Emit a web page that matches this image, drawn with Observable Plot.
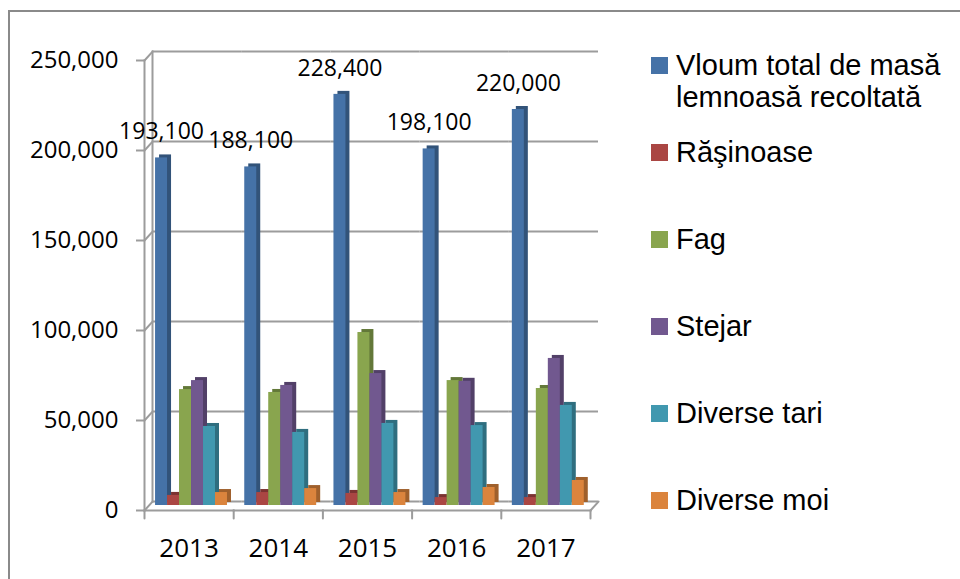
<!DOCTYPE html>
<html>
<head>
<meta charset="utf-8">
<script src="https://cdn.jsdelivr.net/npm/d3@7"></script>
<script src="https://cdn.jsdelivr.net/npm/@observablehq/plot@0.6"></script>
<style>
  html, body { margin: 0; padding: 0; background: #fff; width: 960px; height: 579px; overflow: hidden; }
  #wrap { position: relative; width: 960px; height: 579px; }
  #border { position: absolute; left: 8px; top: 10px; width: 1000px; height: 700px; border: 2px solid #8a8a8a; box-sizing: border-box; }
  #chart { position: absolute; left: 0; top: 0; }
  #legend { position: absolute; left: 651px; top: 49px; font-family: "Liberation Sans", Arial, sans-serif; font-size: 29px; line-height: 32px; color: #000; }
  .item { display: flex; align-items: flex-start; height: 87px; }
  .sw { width: 17px; height: 17px; margin-top: 7.5px; margin-right: 8px; flex: none; }
</style>
</head>
<body>
<div id="wrap">
  <div id="border"></div>
  <div id="chart"></div>
  <div id="legend"></div>
</div>
<script>
// ---- data ----
const years = ["2013", "2014", "2015", "2016", "2017"];
const seriesNames = ["Vloum total de masă lemnoasă recoltată", "Răşinoase", "Fag", "Stejar", "Diverse tari", "Diverse moi"];
const legendLines = [["Vloum total de masă", "lemnoasă recoltată"], ["Răşinoase"], ["Fag"], ["Stejar"], ["Diverse tari"], ["Diverse moi"]];
const total       = [193100, 188100, 228400, 198100, 220000];
const rasinoase   = [5600, 7200, 6700, 4400, 4400];
const fag         = [64400, 62800, 96100, 69400, 65000];
const stejar      = [69400, 66700, 73300, 69000, 81700];
const diverseTari = [43900, 40600, 45600, 44400, 55600];
const diverseMoi  = [7200, 9400, 7200, 10000, 13900];
const colors = ["#4572A7", "#AA4643", "#89A54E", "#71588F", "#4198AF", "#DB843D"];
const yTicks = [0, 50000, 100000, 150000, 200000, 250000];

// ---- table ----
const seriesValues = [total, rasinoase, fag, stejar, diverseTari, diverseMoi];
const rows = [];
seriesNames.forEach((s, i) => years.forEach((y, j) => rows.push({year: y, series: s, value: seriesValues[i][j]})));
const totalRows = rows.filter(r => r.series === seriesNames[0]);

const gray = "#9c9c9c";
const lineShape = {draw(context, l) { context.moveTo(0, 0); context.lineTo(0, -l); }};

const sideMarks = seriesNames.map((s, i) =>
  Plot.barY(rows.filter(r => r.series === s), {
    fx: "year", x: "series", y: "value",
    fill: d3.color(colors[i]).darker(0.9).formatHex(), dx: 4, dy: -3, inset: 0
  }));
const frontMarks = seriesNames.map((s, i) =>
  Plot.barY(rows.filter(r => r.series === s), {
    fx: "year", x: "series", y: "value", fill: colors[i], inset: 0
  }));

const chart = Plot.plot({
  width: 960,
  height: 579,
  marginLeft: 144,
  marginRight: 370,
  marginTop: 55,
  marginBottom: 74,
  style: {fontFamily: "'Open Sans', sans-serif", fontSize: "23px", color: "#000", background: "transparent", overflow: "visible"},
  fx: {domain: years, padding: 0, axis: null, label: null, round: false},
  x: {domain: seriesNames, paddingInner: 0, paddingOuter: 0.72, align: 0.64, round: false, axis: null},
  y: {domain: [0, 250000], axis: null},
  marks: [
    // back wall gridlines
    Plot.ruleY(yTicks, {dx: 8, dy: -4, stroke: gray, strokeWidth: 2}),
    Plot.frame({anchor: "left", dx: 8, dy: -4, stroke: gray, strokeWidth: 2, facetAnchor: "left"}),
    // connectors from front axis to back wall
    Plot.vector(yTicks, {y: d => d, frameAnchor: "left", length: 12, rotate: 42, anchor: "start", shape: lineShape, dy: 5, stroke: gray, strokeWidth: 2, facetAnchor: "left"}),
    Plot.vector([0], {frameAnchor: "bottom-right", length: 12, rotate: 42, anchor: "start", shape: lineShape, dy: 5, stroke: gray, strokeWidth: 2, facetAnchor: "right"}),
    // front axis line and floor line
    Plot.frame({anchor: "left", dy: 5, stroke: gray, strokeWidth: 2, facetAnchor: "left"}),
    Plot.frame({anchor: "bottom", dy: 5, stroke: gray, strokeWidth: 2}),
    // category boundary ticks
    Plot.vector([0], {frameAnchor: "bottom-left", length: 8, rotate: 180, anchor: "start", shape: lineShape, dy: 5, stroke: gray, strokeWidth: 2}),
    Plot.vector([0], {frameAnchor: "bottom-right", length: 8, rotate: 180, anchor: "start", shape: lineShape, dy: 5, stroke: gray, strokeWidth: 2, facetAnchor: "right"}),
    // bars
    ...sideMarks,
    ...frontMarks,
    // value labels
    Plot.text(totalRows, {fx: "year", x: "series", y: "value", text: d => d3.format(",")(d.value), dy: -26, fontSize: 23, fill: "#000"}),
    // axes
    Plot.axisY(yTicks, {tickSize: 8, tickPadding: 18, dy: 5, stroke: gray, strokeWidth: 2, fill: "#000", fontSize: 24, tickFormat: d3.format(","), label: null}),
    Plot.axisFx({anchor: "bottom", tickSize: 0, tickPadding: 33, fontSize: 26, fill: "#000", label: null})
  ]
});
document.getElementById("chart").appendChild(chart);

// ---- legend ----
const legend = document.getElementById("legend");
seriesNames.forEach((s, i) => {
  const item = document.createElement("div");
  item.className = "item";
  const sw = document.createElement("div");
  sw.className = "sw";
  sw.style.background = colors[i];
  const label = document.createElement("div");
  label.innerHTML = legendLines[i].join("<br>");
  item.appendChild(sw);
  item.appendChild(label);
  legend.appendChild(item);
});
</script>
</body>
</html>
